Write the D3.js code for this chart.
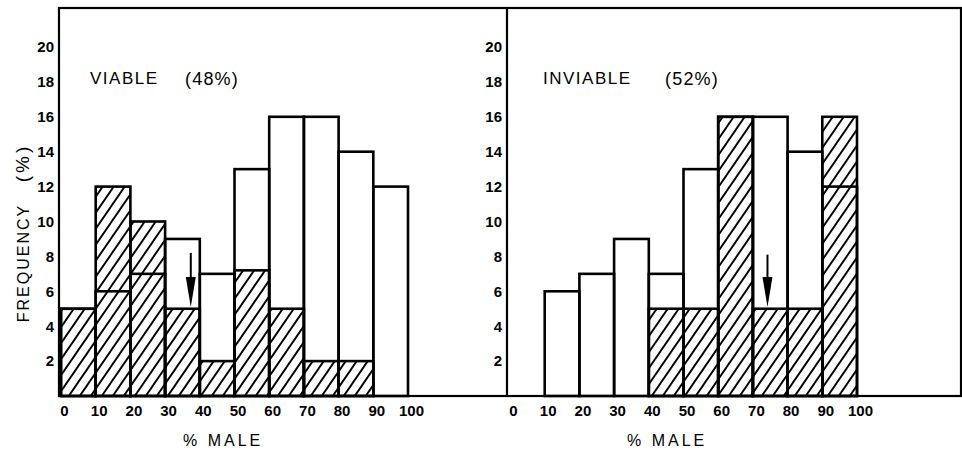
<!DOCTYPE html>
<html>
<head>
<meta charset="utf-8">
<script src="https://cdn.jsdelivr.net/npm/d3@7"></script>
<style>
  body { margin: 0; background: #fff; }
  svg { display: block; }
  text { font-family: "Liberation Sans", Arial, sans-serif; fill: #000; }
</style>
</head>
<body>
<div id="chart"></div>
<script>
// bins of % male (lower edge of each 10% class)
const bins = [0, 10, 20, 30, 40, 50, 60, 70, 80, 90];
const xTicks = [0, 10, 20, 30, 40, 50, 60, 70, 80, 90, 100];
const yTicks = [2, 4, 6, 8, 10, 12, 14, 16, 18, 20];

// open outline histogram (all broods) and hatched histogram per panel
const viableOpen = [5, 6, 7, 9, 7, 13, 16, 16, 14, 12];
const viableHatched = [5, 12, 10, 5, 2, 7.2, 5, 2, 2, 0];
const inviableOpen = [0, 6, 7, 9, 7, 13, 16, 16, 14, 12];
const inviableHatched = [0, 0, 0, 0, 5, 5, 16, 5, 5, 16];

// mean arrows: [x position, top, tip]
const viableArrow = [37.4, 8.2, 5.1];
const inviableArrow = [74.2, 8.1, 5.1];

const panels = [
    { title: "VIABLE", pct: "(48%)", open: viableOpen, hatched: viableHatched, arrow: viableArrow,
      x0: 61, x1: 408, frameL: 59, labelX: 183, titleX: 90, pctX: 185 },
    { title: "INVIABLE", pct: "(52%)", open: inviableOpen, hatched: inviableHatched, arrow: inviableArrow,
      x0: 510, x1: 857, frameL: 507, labelX: 627, titleX: 543, pctX: 665 }
];

const W = 962, H = 451;
const frameTop = 8, frameBottom = 396, frameRight = 961;

const svg = d3.select("#chart").append("svg")
    .attr("width", W)
    .attr("height", H);

// hatch pattern "/"
const hw = 11, hh = 16;
svg.append("defs").append("pattern")
    .attr("id", "hatch")
    .attr("patternUnits", "userSpaceOnUse")
    .attr("width", hw)
    .attr("height", hh)
    .append("path")
    .attr("d", `M0,${hh} L${hw},0 M${-hw / 4},${hh / 4} L${hw / 4},${-hh / 4} M${hw * 0.75},${hh * 1.25} L${hw * 1.25},${hh * 0.75}`)
    .attr("stroke", "#000")
    .attr("stroke-width", 1.9);

const y = d3.scaleLinear().domain([0, 20]).range([frameBottom, 47]);

panels.forEach(p => {
    const x = d3.scaleLinear().domain([0, 100]).range([p.x0, p.x1]);
    const g = svg.append("g");

    // hatched bars
    g.selectAll(".hbar")
        .data(bins.map((b, i) => ({ b, v: p.hatched[i] })).filter(d => d.v > 0))
        .enter().append("rect")
        .attr("class", "hbar")
        .attr("x", d => x(d.b))
        .attr("y", d => y(d.v))
        .attr("width", d => x(d.b + 10) - x(d.b))
        .attr("height", d => y(0) - y(d.v))
        .attr("fill", "url(#hatch)")
        .attr("stroke", "#000")
        .attr("stroke-width", 2.6);

    // open bars
    g.selectAll(".obar")
        .data(bins.map((b, i) => ({ b, v: p.open[i] })).filter(d => d.v > 0))
        .enter().append("rect")
        .attr("class", "obar")
        .attr("x", d => x(d.b))
        .attr("y", d => y(d.v))
        .attr("width", d => x(d.b + 10) - x(d.b))
        .attr("height", d => y(0) - y(d.v))
        .attr("fill", "none")
        .attr("stroke", "#000")
        .attr("stroke-width", 2.6);

    // x axis labels
    const xa = g.append("g")
        .attr("transform", `translate(3,${frameBottom + 3})`)
        .call(d3.axisBottom(x).tickValues(xTicks).tickSize(0).tickPadding(6));
    xa.select(".domain").remove();
    xa.selectAll("text")
        .style("font-family", "'Liberation Sans', Arial, sans-serif")
        .style("font-size", "15px")
        .style("font-weight", "bold");

    // y axis labels
    const ya = g.append("g")
        .attr("transform", `translate(${p.frameL},0)`)
        .call(d3.axisLeft(y).tickValues(yTicks).tickSize(0).tickPadding(5));
    ya.select(".domain").remove();
    ya.selectAll("text")
        .style("font-family", "'Liberation Sans', Arial, sans-serif")
        .style("font-size", "15px")
        .style("font-weight", "bold");

    // arrow
    const ax = x(p.arrow[0]);
    const tip = y(p.arrow[2]);
    g.append("line")
        .attr("x1", ax).attr("x2", ax)
        .attr("y1", y(p.arrow[1])).attr("y2", tip - 20)
        .attr("stroke", "#000")
        .attr("stroke-width", 2);
    g.append("path")
        .attr("d", `M${ax - 5},${tip - 30} L${ax + 5},${tip - 30} L${ax},${tip} Z`)
        .attr("fill", "#000");

    // titles
    g.append("text")
        .attr("x", p.titleX).attr("y", 84)
        .style("font-size", "17px")
        .style("letter-spacing", "1.5px")
        .text(p.title);
    g.append("text")
        .attr("x", p.pctX).attr("y", 85)
        .style("font-size", "18px")
        .style("letter-spacing", "1.2px")
        .text(p.pct);

    // x title
    g.append("text")
        .attr("x", p.labelX).attr("y", 446)
        .style("font-size", "16px")
        .style("letter-spacing", "3px")
        .text("% MALE");
});

// frame
const frame = svg.append("g")
    .attr("fill", "none")
    .attr("stroke", "#000")
    .attr("stroke-width", 2.2);
frame.append("rect")
    .attr("x", panels[0].frameL).attr("y", frameTop)
    .attr("width", frameRight - panels[0].frameL).attr("height", frameBottom - frameTop);
frame.append("line")
    .attr("x1", panels[1].frameL).attr("x2", panels[1].frameL)
    .attr("y1", frameTop).attr("y2", frameBottom);

// y title
svg.append("text")
    .attr("transform", "translate(29,263) rotate(-90)")
    .attr("text-anchor", "middle")
    .style("font-size", "16px")
    .style("letter-spacing", "2px")
    .text("FREQUENCY");
svg.append("text")
    .attr("transform", "translate(29,163) rotate(-90)")
    .attr("text-anchor", "middle")
    .style("font-size", "19px")
    .style("letter-spacing", "3px")
    .text("(%)");
</script>
</body>
</html>
